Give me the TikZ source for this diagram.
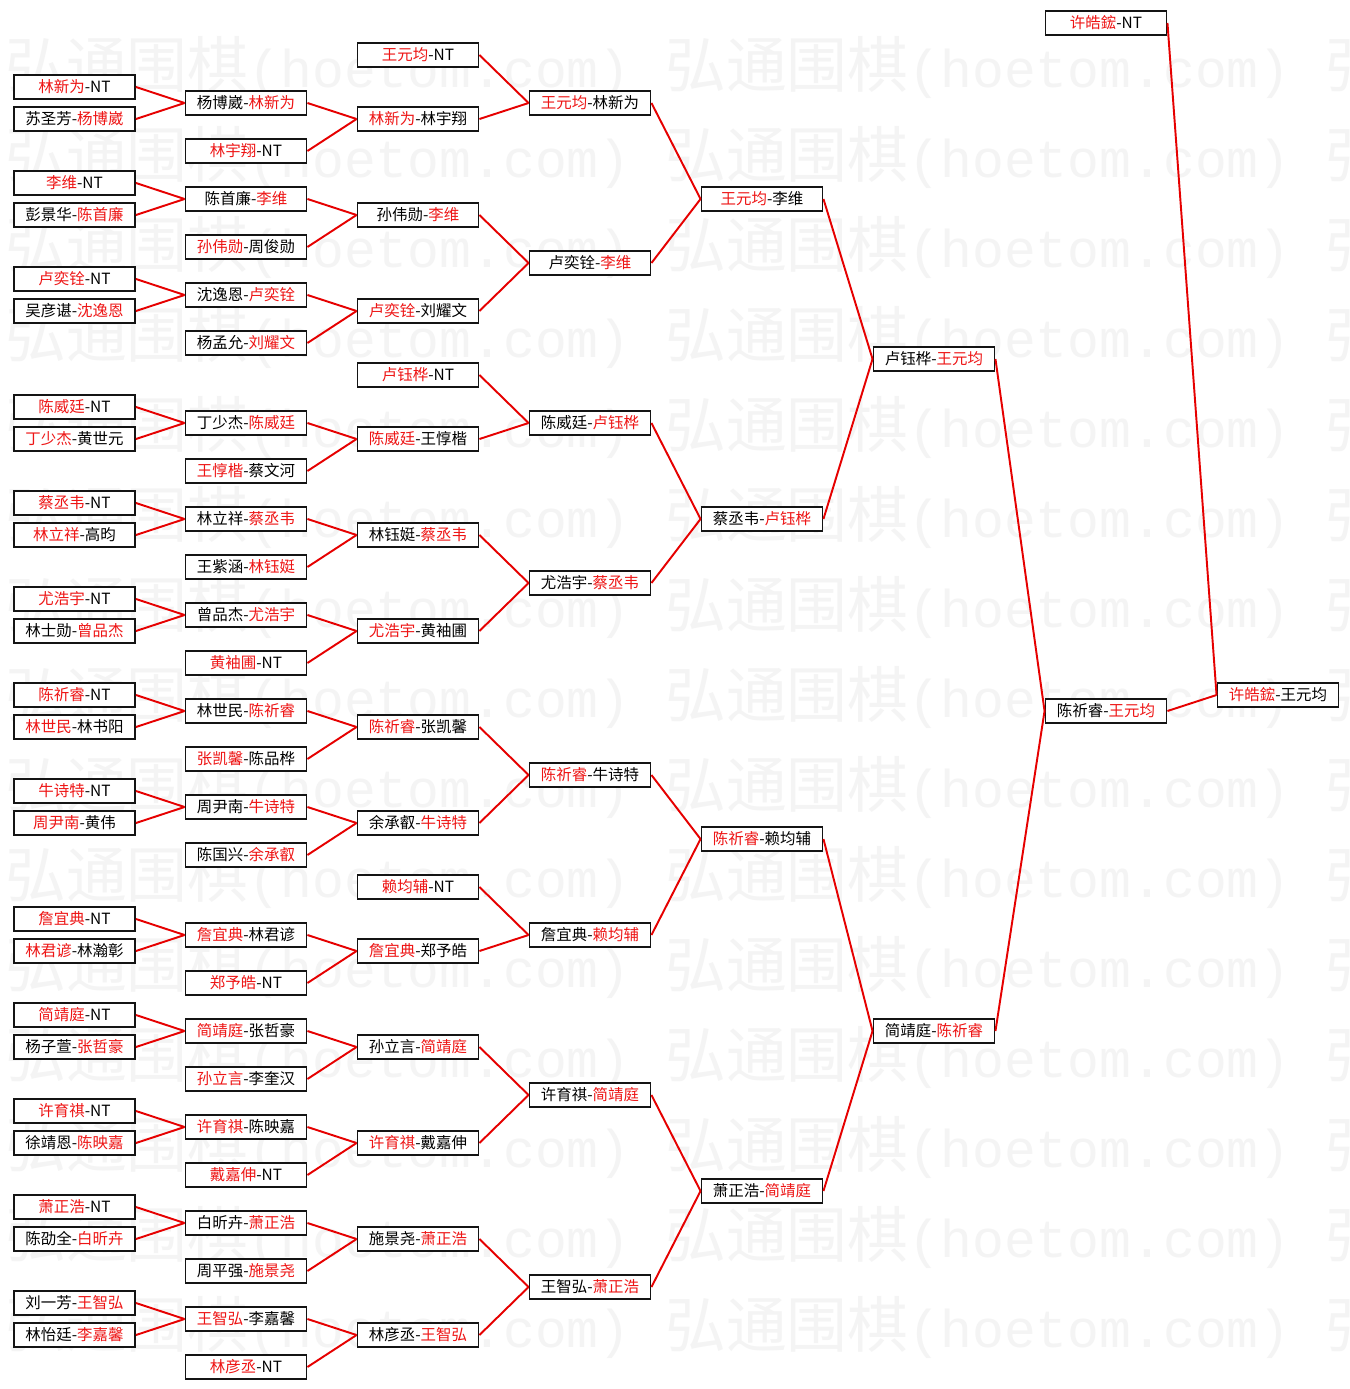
\documentclass[tikz,border=0pt]{standalone}
\usepackage{fontspec}
\usepackage{tikz}
\usepackage{xcolor}
\setmainfont{Noto Sans CJK SC}
\newfontfamily\wmmono{Liberation Mono}
\definecolor{winred}{HTML}{EE1515}
\definecolor{linered}{HTML}{E60000}
\definecolor{boxink}{HTML}{141414}
\definecolor{wmgray}{HTML}{F4F4F4}
\newcommand{\winr}[1]{\textcolor{winred}{#1}}
\tikzset{
  matchbox/.style={draw=boxink,fill=white,line width=1.1pt,
                   minimum width=2.42cm,minimum height=0.47cm,
                   inner sep=0pt,font=\fontsize{8.8}{10}\selectfont},
  winline/.style={draw=linered,line width=1.1pt},
  wmark/.style={anchor=west,inner sep=0pt,text=wmgray,
                font=\fontsize{34.6}{36}\selectfont}
}

\begin{document}
\begin{tikzpicture}[x=0.02cm,y=-0.02cm]
  \useasboundingbox (0,0) rectangle (1349,1389);
  \fill[white] (0,0) rectangle (1349,1389);
  \begin{scope}
    \clip (0,0) rectangle (1349,1389);
    \foreach \k in {0,...,14} {
      \foreach \c in {0,1,2} {
        \node[wmark] (wm\k\c) at ({5+660*\c},{67+90*\k})
          {弘通围棋{\wmmono\fontsize{30.2}{32}\selectfont (hoetom.com)}};
      }
    }
  \end{scope}

  \foreach \y/\txt [count=\i] in {
    87/\winr{林新为}-NT, 119/苏圣芳-\winr{杨博崴},
    183/\winr{李维}-NT, 215/彭景华-\winr{陈首廉},
    279/\winr{卢奕铨}-NT, 311/吴彦谌-\winr{沈逸恩},
    407/\winr{陈威廷}-NT, 439/\winr{丁少杰}-黄世元,
    503/\winr{蔡丞韦}-NT, 535/\winr{林立祥}-高昀,
    599/\winr{尤浩宇}-NT, 631/林士勋-\winr{曾品杰},
    695/\winr{陈祈睿}-NT, 727/\winr{林世民}-林书阳,
    791/\winr{牛诗特}-NT, 823/\winr{周尹南}-黄伟,
    919/\winr{詹宜典}-NT, 951/\winr{林君谚}-林瀚彰,
    1015/\winr{简靖庭}-NT, 1047/杨子萱-\winr{张哲豪},
    1111/\winr{许育祺}-NT, 1143/徐靖恩-\winr{陈映嘉},
    1207/\winr{萧正浩}-NT, 1239/陈劭全-\winr{白昕卉},
    1303/刘一芳-\winr{王智弘}, 1335/林怡廷-\winr{李嘉馨}}
    \node[matchbox] (a\i) at (74.5,\y) {\txt};

  \foreach \y/\txt [count=\i] in {
    103/杨博崴-\winr{林新为}, 151/\winr{林宇翔}-NT,
    199/陈首廉-\winr{李维}, 247/\winr{孙伟勋}-周俊勋,
    295/沈逸恩-\winr{卢奕铨}, 343/杨孟允-\winr{刘耀文},
    423/丁少杰-\winr{陈威廷}, 471/\winr{王惇楷}-蔡文河,
    519/林立祥-\winr{蔡丞韦}, 567/王紫涵-\winr{林钰娗},
    615/曾品杰-\winr{尤浩宇}, 663/\winr{黄袖圃}-NT,
    711/林世民-\winr{陈祈睿}, 759/\winr{张凯馨}-陈品桦,
    807/周尹南-\winr{牛诗特}, 855/陈国兴-\winr{余承叡},
    935/\winr{詹宜典}-林君谚, 983/\winr{郑予皓}-NT,
    1031/\winr{简靖庭}-张哲豪, 1079/\winr{孙立言}-李奎汉,
    1127/\winr{许育祺}-陈映嘉, 1175/\winr{戴嘉伸}-NT,
    1223/白昕卉-\winr{萧正浩}, 1271/周平强-\winr{施景尧},
    1319/\winr{王智弘}-李嘉馨, 1367/\winr{林彦丞}-NT}
    \node[matchbox] (b\i) at (246,\y) {\txt};

  \foreach \y/\txt [count=\i] in {
    55/\winr{王元均}-NT, 119/\winr{林新为}-林宇翔,
    215/孙伟勋-\winr{李维}, 311/\winr{卢奕铨}-刘耀文,
    375/\winr{卢钰桦}-NT, 439/\winr{陈威廷}-王惇楷,
    535/林钰娗-\winr{蔡丞韦}, 631/\winr{尤浩宇}-黄袖圃,
    727/\winr{陈祈睿}-张凯馨, 823/余承叡-\winr{牛诗特},
    887/\winr{赖均辅}-NT, 951/\winr{詹宜典}-郑予皓,
    1047/孙立言-\winr{简靖庭}, 1143/\winr{许育祺}-戴嘉伸,
    1239/施景尧-\winr{萧正浩}, 1335/林彦丞-\winr{王智弘}}
    \node[matchbox] (c\i) at (418,\y) {\txt};

  \foreach \y/\txt [count=\i] in {
    103/\winr{王元均}-林新为, 263/卢奕铨-\winr{李维},
    423/陈威廷-\winr{卢钰桦}, 583/尤浩宇-\winr{蔡丞韦},
    775/\winr{陈祈睿}-牛诗特, 935/詹宜典-\winr{赖均辅},
    1095/许育祺-\winr{简靖庭}, 1287/王智弘-\winr{萧正浩}}
    \node[matchbox] (d\i) at (590,\y) {\txt};

  \foreach \y/\txt [count=\i] in {
    199/\winr{王元均}-李维, 519/蔡丞韦-\winr{卢钰桦},
    839/\winr{陈祈睿}-赖均辅, 1191/萧正浩-\winr{简靖庭}}
    \node[matchbox] (e\i) at (762,\y) {\txt};

  \node[matchbox] (f1) at (934,359) {卢钰桦-\winr{王元均}};
  \node[matchbox] (f2) at (934,1031) {简靖庭-\winr{陈祈睿}};
  \node[matchbox] (g0) at (1106,23) {\winr{许皓鋐}-NT};
  \node[matchbox] (g1) at (1106,711) {陈祈睿-\winr{王元均}};
  \node[matchbox] (h1) at (1278,695) {\winr{许皓鋐}-王元均};

  \foreach \s/\t in {
    a1/b1,a2/b1,a3/b3,a4/b3,a5/b5,a6/b5,a7/b7,a8/b7,a9/b9,a10/b9,
    a11/b11,a12/b11,a13/b13,a14/b13,a15/b15,a16/b15,a17/b17,a18/b17,
    a19/b19,a20/b19,a21/b21,a22/b21,a23/b23,a24/b23,a25/b25,a26/b25,
    b1/c2,b2/c2,b3/c3,b4/c3,b5/c4,b6/c4,b7/c6,b8/c6,b9/c7,b10/c7,
    b11/c8,b12/c8,b13/c9,b14/c9,b15/c10,b16/c10,b17/c12,b18/c12,
    b19/c13,b20/c13,b21/c14,b22/c14,b23/c15,b24/c15,b25/c16,b26/c16,
    c1/d1,c2/d1,c3/d2,c4/d2,c5/d3,c6/d3,c7/d4,c8/d4,
    c9/d5,c10/d5,c11/d6,c12/d6,c13/d7,c14/d7,c15/d8,c16/d8,
    d1/e1,d2/e1,d3/e2,d4/e2,d5/e3,d6/e3,d7/e4,d8/e4,
    e1/f1,e2/f1,e3/f2,e4/f2,f1/g1,f2/g1,g0/h1,g1/h1}
    \draw[winline] (\s.east) -- (\t.west);
\end{tikzpicture}
\end{document}
